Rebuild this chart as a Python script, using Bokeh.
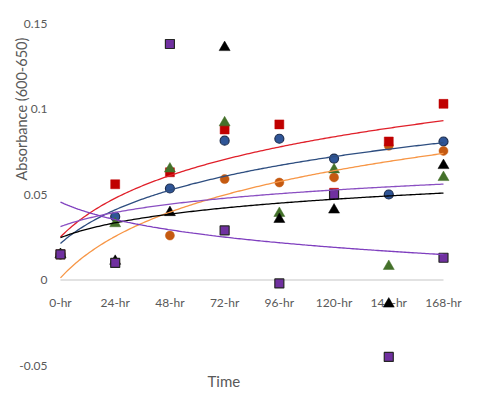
import numpy as np
from bokeh.plotting import figure
from bokeh.models import FixedTicker, Range1d, Title
from bokeh.embed import file_html
from bokeh.resources import INLINE

categories = ["0-hr", "24-hr", "48-hr", "72-hr", "96-hr", "120-hr", "144-hr", "168-hr"]
red_sq = [0.015, 0.056, 0.063, 0.088, 0.091, 0.051, 0.081, 0.103]
blue_circ = [0.015, 0.037, 0.0535, 0.0815, 0.0826, 0.071, 0.050, 0.081]
orange_circ = [0.015, 0.010, 0.026, 0.059, 0.057, 0.060, 0.0785, 0.0755]
green_tri = [0.015, 0.033, 0.065, 0.092, 0.039, 0.0645, 0.008, 0.060]
black_tri = [0.015, 0.011, 0.0395, 0.136, 0.0355, 0.041, -0.014, 0.067]
purple_sq = [0.015, 0.010, 0.138, 0.029, -0.002, 0.050, -0.045, 0.013]
y_ticks = [-0.05, 0, 0.05, 0.1, 0.15]
y_tick_labels = ["-0.05", "0", "0.05", "0.1", "0.15"]

FONT = "Lato"
TXT = "#595959"

p = figure(width=474, height=394, output_backend="svg", toolbar_location=None,
           x_range=Range1d(-0.219, 7.384),
           y_range=Range1d(-0.05, 0.15),
           min_border_left=48, min_border_right=10, min_border_top=23, min_border_bottom=26)
p.outline_line_color = None
p.grid.visible = False
p.background_fill_color = "white"
p.border_fill_color = "white"

xs = list(range(len(categories)))

# zero axis line from first to last category
p.line([xs[0], xs[-1]], [0, 0], line_color="#d9d9d9", line_width=1.3)

series = [
    (blue_circ, "circle", "#2f5597", "#1f2f4f", 9, "#2e4e80"),
    (orange_circ, "circle", "#c55a11", None, 9, "#f79646"),
    (red_sq, "square", "#c00000", None, 9, "#e0202a"),
    (green_tri, "triangle", "#44712a", None, 11, "#8a4fc2"),
    (black_tri, "triangle", "#000000", None, 11, "#000000"),
    (purple_sq, "square", "#7030a0", "#262626", 9, "#7f3fbf"),
]

for vals, marker, fill, line, size, _ in series:
    p.scatter(xs, vals, marker=marker, size=size, fill_color=fill,
              line_color=line if line else fill, line_width=1.2 if line else 0.5)

# logarithmic trendlines (Excel style: y = a ln(x) + b, x = 1..n)
xi = np.arange(1, len(categories) + 1)
xf = np.linspace(1, len(categories), 200)
for vals, marker, fill, line, size, lc in series:
    a, b = np.polyfit(np.log(xi), np.array(vals), 1)
    p.line(xf - 1, a * np.log(xf) + b, line_color=lc, line_width=1.3)

p.xaxis.fixed_location = 0
p.xaxis.ticker = FixedTicker(ticks=xs)
p.xaxis.major_label_overrides = {i: c for i, c in enumerate(categories)}
p.xaxis.axis_line_color = None
p.xaxis.major_tick_line_color = None
p.xaxis.minor_tick_line_color = None
p.xaxis.major_label_standoff = 9
p.xaxis.level = "underlay"

p.yaxis.ticker = FixedTicker(ticks=y_ticks)
p.yaxis.major_label_overrides = {t: l for t, l in zip(y_ticks, y_tick_labels)}
p.yaxis.axis_line_color = None
p.yaxis.major_tick_line_color = None
p.yaxis.minor_tick_line_color = None
p.yaxis.major_tick_out = 0
p.yaxis.minor_tick_out = 0
p.yaxis.major_label_standoff = 1
p.yaxis.major_label_text_align = "right"

for ax in (p.xaxis[0], p.yaxis[0]):
    ax.major_label_text_font = FONT
    ax.major_label_text_font_size = "12px"
    ax.major_label_text_color = TXT

ytitle = Title(text="Absorbance (600-650)", align="left", offset=185, standoff=-27,
               text_font=FONT, text_font_size="14.5px", text_color=TXT, text_font_style="normal")
xtitle = Title(text="Time", align="left", offset=159, standoff=9,
               text_font=FONT, text_font_size="15px", text_color=TXT, text_font_style="normal")
p.add_layout(ytitle, "left")
p.add_layout(xtitle, "below")

open("out.html", "w").write(file_html(p, INLINE))
